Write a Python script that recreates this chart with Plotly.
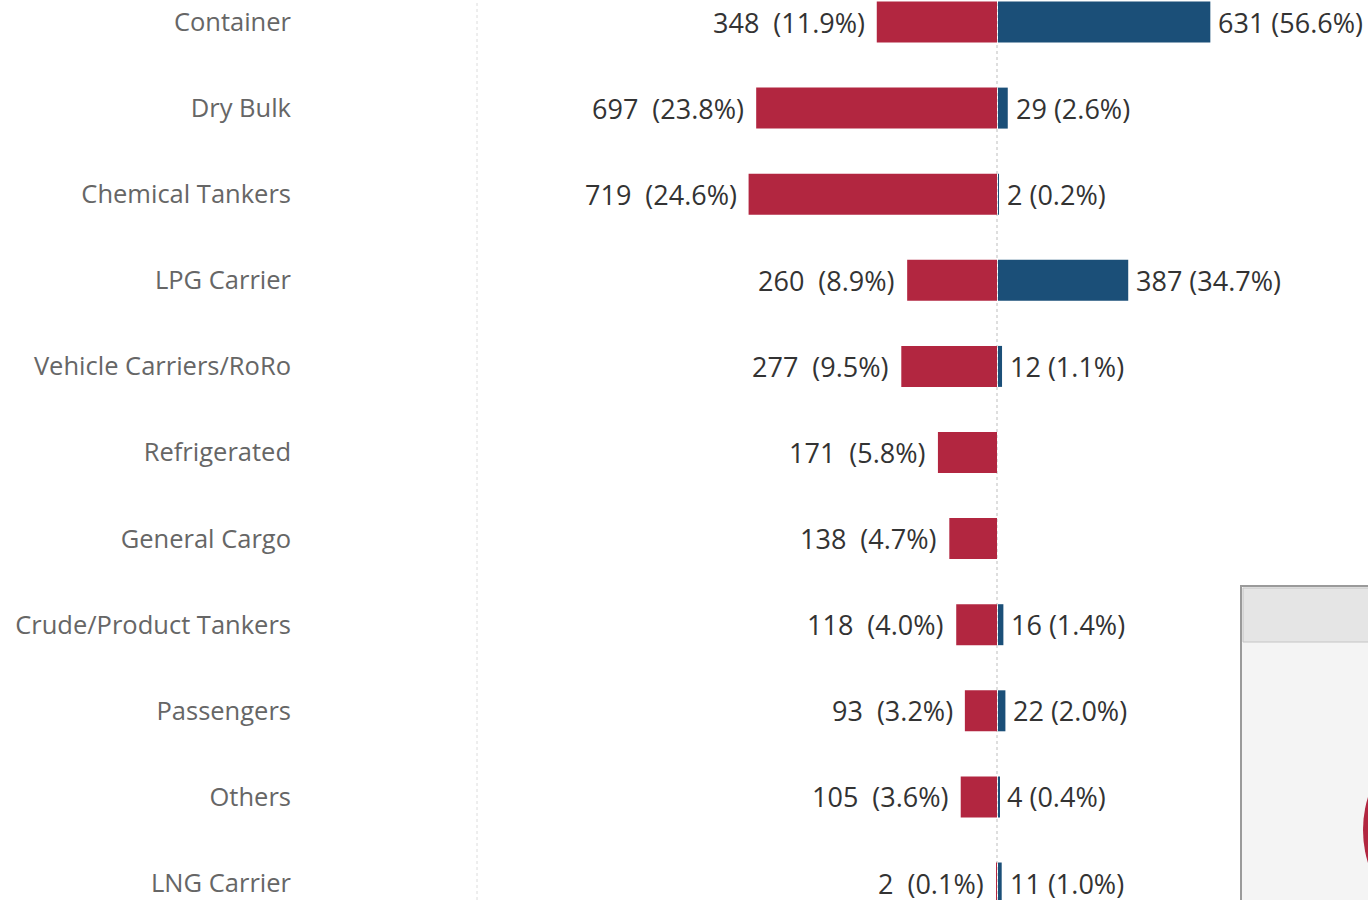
import plotly.graph_objects as go

categories = ["Container", "Dry Bulk", "Chemical Tankers", "LPG Carrier", "Vehicle Carriers/RoRo",
              "Refrigerated", "General Cargo", "Crude/Product Tankers", "Passengers", "Others", "LNG Carrier"]
red_values = [348, 697, 719, 260, 277, 171, 138, 118, 93, 105, 2]
red_pct = [11.9, 23.8, 24.6, 8.9, 9.5, 5.8, 4.7, 4.0, 3.2, 3.6, 0.1]
blue_values = [631, 29, 2, 387, 12, None, None, 16, 22, 4, 11]
blue_pct = [56.6, 2.6, 0.2, 34.7, 1.1, None, None, 1.4, 2.0, 0.4, 1.0]

RED = "#b22640"
BLUE = "#1b4f78"
W, H = 1368, 900
L = 300
idx = list(range(len(categories)))

fig = go.Figure()
fig.add_trace(go.Bar(y=idx, x=[-v for v in red_values], orientation="h", marker=dict(color=RED, line=dict(width=0)),
                     width=0.476, xaxis="x", yaxis="y", hoverinfo="skip"))
fig.add_trace(go.Bar(y=idx, x=blue_values, orientation="h", marker=dict(color=BLUE, line=dict(width=0)),
                     width=0.476, xaxis="x2", yaxis="y", hoverinfo="skip"))

ann = []
for i, (v, p) in enumerate(zip(red_values, red_pct)):
    ann.append(dict(x=-v, y=i, xref="x", yref="y", xanchor="right", yanchor="middle", xshift=-10,
                    text=f"{v}\u00a0 ({p:.1f}%)", showarrow=False, font=dict(size=27, color="#333333")))
for i, (v, p) in enumerate(zip(blue_values, blue_pct)):
    if v is None:
        continue
    ann.append(dict(x=v, y=i, xref="x2", yref="y", xanchor="left", yanchor="middle", xshift=6,
                    text=f"{v} ({p:.1f}%)", showarrow=False, font=dict(size=27, color="#333333")))

def px(x):
    return (x - L) / (W - L)

def py(y):
    return 1 - y / H

shapes = [
    dict(type="line", xref="paper", yref="paper", x0=px(477), x1=px(477), y0=0, y1=1,
         line=dict(color="#dcdcdc", width=1, dash="dot"), layer="below"),
    dict(type="line", xref="paper", yref="paper", x0=px(997), x1=px(997), y0=0, y1=1,
         line=dict(color="#bdbdbd", width=1, dash="dot"), layer="below"),
    # partial panel bottom-right
    dict(type="rect", xref="paper", yref="paper", x0=px(1241), x1=px(1375), y0=py(905), y1=py(586),
         fillcolor="#f4f4f4", line=dict(color="#9a9a9a", width=2)),
    dict(type="rect", xref="paper", yref="paper", x0=px(1243), x1=px(1375), y0=py(642), y1=py(588),
         fillcolor="#e5e5e5", line=dict(color="#c4c4c4", width=1)),
    dict(type="circle", xref="paper", yref="paper", x0=px(1363), x1=px(1585), y0=py(941), y1=py(719),
         fillcolor=RED, line=dict(width=0)),
]

fig.update_layout(
    width=W, height=H, margin=dict(l=L, r=0, t=0, b=0),
    paper_bgcolor="white", plot_bgcolor="white", showlegend=False, barmode="overlay",
    font=dict(family="Open Sans", size=24, color="#333333"),
    xaxis=dict(range=[-697 / 0.3455, 371 / 0.3455], visible=False, fixedrange=True),
    xaxis2=dict(range=[-698 / 0.3365, 370 / 0.3365], visible=False, overlaying="x", anchor="y"),
    yaxis=dict(range=[(900 - 22) / 86.1, -22 / 86.1], tickvals=idx, ticktext=categories,
               showgrid=False, zeroline=False, showline=False, ticks="", ticklabelstandoff=8,
               tickfont=dict(size=25.5, color="#666666", family="Open Sans")),
    annotations=ann, shapes=shapes,
)
fig.write_html("out.html", config={"displayModeBar": False},
               post_script="document.body.style.margin='0';document.body.style.overflow='hidden';")
